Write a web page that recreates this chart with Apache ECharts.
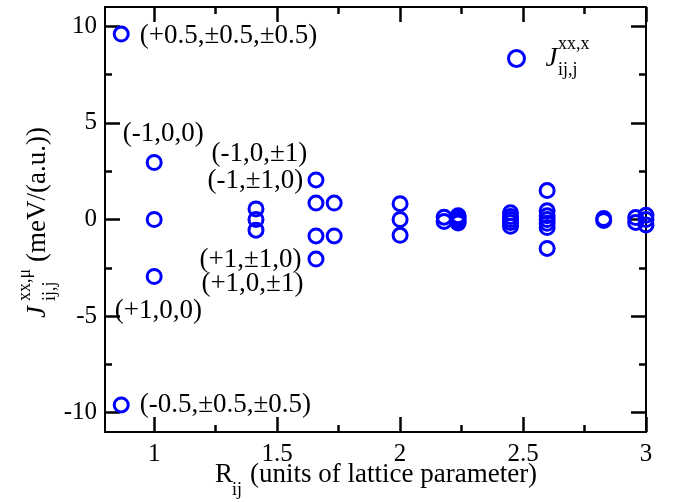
<!DOCTYPE html>
<html>
<head>
<meta charset="utf-8">
<script src="https://cdn.jsdelivr.net/npm/echarts@6/dist/echarts.min.js"></script>
<style>
  html, body { margin: 0; padding: 0; background: #fff; }
  #chart { width: 680px; height: 502px; }
</style>
</head>
<body>
<div id="chart"></div>
<script>
// shell distance R_ij and exchange J (meV/(a.u.)), one entry per circle
const rValues = [
  0.866, 0.866,
  1, 1, 1,
  1.414, 1.414, 1.414,
  1.658, 1.658, 1.658, 1.658,
  1.732, 1.732,
  2, 2, 2,
  2.179, 2.179,
  2.236, 2.236, 2.236, 2.236,
  2.449, 2.449, 2.449, 2.449, 2.449,
  2.598, 2.598, 2.598, 2.598, 2.598, 2.598, 2.598,
  2.828, 2.828,
  2.958, 2.958,
  3, 3, 3
];
const jValues = [
  9.6, -9.6,
  2.95, 0, -2.95,
  0.55, 0, -0.55,
  2.05, 0.85, -0.85, -2.05,
  0.85, -0.85,
  0.82, 0, -0.82,
  0.12, -0.1,
  0.2, 0.08, -0.05, -0.18,
  0.35, 0.15, 0, -0.15, -0.35,
  1.5, 0.45, 0.2, 0, -0.2, -0.42, -1.5,
  0.05, -0.05,
  0.1, -0.15,
  0.22, 0, -0.28
];

const xMajorTicks = [1, 1.5, 2, 2.5, 3];
const xMinorTicks = [1.25, 1.75, 2.25, 2.75];
const yMajorTicks = [-10, -5, 0, 5, 10];
const yMinorTicks = [-7.5, -2.5, 2.5, 7.5];

// neighbour labels, anchored at their left edge
const labelTexts = ['(+0.5,\u00b10.5,\u00b10.5)', '(-0.5,\u00b10.5,\u00b10.5)', '(-1,0,0)', '(-1,0,\u00b11)',
  '(-1,\u00b11,0)', '(+1,\u00b11,0)', '(+1,0,\u00b11)', '(+1,0,0)'];
const labelR = [0.939, 0.939, 0.870, 1.231, 1.215, 1.182, 1.190, 0.838];
const labelJ = [9.52, -9.62, 4.45, 3.41, 2.02, -2.07, -3.31, -4.71];

const FONT = 'Liberation Serif';
var myChart = echarts.init(document.getElementById('chart'));

function xAx(pos, ticks, len, labels) {
  return {
    type: 'value', position: pos, min: 0.8, max: 3, gridIndex: 0,
    axisLine: { show: true, onZero: false, lineStyle: { color: '#000', width: 2 } },
    axisTick: { show: true, inside: true, length: len, customValues: ticks, lineStyle: { color: '#000', width: 2.5 } },
    axisLabel: { show: labels, customValues: ticks, margin: 10, color: '#000', fontFamily: FONT, fontSize: 25 },
    splitLine: { show: false }
  };
}
function yAx(pos, ticks, len, labels) {
  return {
    type: 'value', position: pos, min: -11, max: 11, gridIndex: 0,
    axisLine: { show: true, onZero: false, lineStyle: { color: '#000', width: 2 } },
    axisTick: { show: true, inside: true, length: len, customValues: ticks, lineStyle: { color: '#000', width: 2.5 } },
    axisLabel: { show: labels, customValues: ticks, margin: 8, color: '#000', fontFamily: FONT, fontSize: 25 },
    splitLine: { show: false }
  };
}

const option = {
  backgroundColor: '#fff',
  animation: false,
  grid: { left: 105, right: 34, top: 7, bottom: 70 },
  xAxis: [
    xAx('bottom', xMajorTicks, 15, true),
    xAx('bottom', xMinorTicks, 7, false),
    xAx('top', xMajorTicks, 15, false),
    xAx('top', xMinorTicks, 7, false)
  ],
  yAxis: [
    yAx('left', yMajorTicks, 15, true),
    yAx('left', yMinorTicks, 7, false),
    yAx('right', yMajorTicks, 15, false),
    yAx('right', yMinorTicks, 7, false)
  ],
  legend: {
    data: ['J'],
    left: 507, top: 45, padding: 0,
    itemWidth: 16, itemHeight: 16,
    icon: 'circle',
    itemStyle: { color: 'rgba(0,0,0,0)', borderColor: '#0000ff', borderWidth: 3, opacity: 1 },
    formatter: function () { return '{j|J}'; },
    textStyle: {
      rich: { j: { fontFamily: FONT, fontStyle: 'italic', fontSize: 27, color: '#000', padding: [0, 0, 0, 16] } }
    }
  },
  series: [{
    name: 'J',
    type: 'scatter',
    symbol: 'circle',
    symbolSize: 14,
    data: rValues.map((r, i) => [r, jValues[i]]),
    itemStyle: { color: 'rgba(0,0,0,0)', borderColor: '#0000ff', borderWidth: 3, opacity: 1 },
    emphasis: { disabled: true },
    z: 3
  }, {
    name: 'labels',
    type: 'scatter',
    symbolSize: 1,
    silent: true,
    itemStyle: { color: 'rgba(0,0,0,0)', opacity: 1 },
    data: labelTexts.map((t, i) => ({ name: t, value: [labelR[i], labelJ[i]] })),
    label: {
      show: true, position: 'right', distance: 0,
      formatter: p => p.name,
      fontFamily: FONT, fontSize: 27, color: '#000', opacity: 1
    },
    z: 4
  }],
  graphic: [
    // legend super/subscripts
    { type: 'text', left: 558, top: 35, style: { text: 'xx,x', font: '18px ' + FONT, fill: '#000' } },
    { type: 'text', left: 558, top: 61, style: { text: 'ij,j', font: '18px ' + FONT, fill: '#000' } },
    // x axis title
    { type: 'text', x: 215, y: 475, style: { text: 'R', font: '27px ' + FONT, fill: '#000', textVerticalAlign: 'middle' } },
    { type: 'text', x: 232, y: 490, style: { text: 'ij', font: '18px ' + FONT, fill: '#000', textVerticalAlign: 'middle' } },
    { type: 'text', x: 250, y: 475, style: { text: '(units of lattice parameter)', font: '27px ' + FONT, fill: '#000', textVerticalAlign: 'middle' } },
    // y axis title, rotated
    {
      type: 'group', x: 38, y: 318, rotation: Math.PI / 2,
      children: [
        { type: 'text', x: 0, y: 0, style: { text: 'J', font: 'italic 27px ' + FONT, fill: '#000', textVerticalAlign: 'middle' } },
        { type: 'text', x: 17, y: -13, style: { text: 'xx,\u03bc', font: '18px ' + FONT, fill: '#000', textVerticalAlign: 'middle' } },
        { type: 'text', x: 17, y: 12, style: { text: 'ij,j', font: '18px ' + FONT, fill: '#000', textVerticalAlign: 'middle' } },
        { type: 'text', x: 56, y: 0, style: { text: '(meV/(a.u.))', font: '27px ' + FONT, fill: '#000', textVerticalAlign: 'middle' } }
      ]
    }
  ]
};
myChart.setOption(option);
</script>
</body>
</html>
